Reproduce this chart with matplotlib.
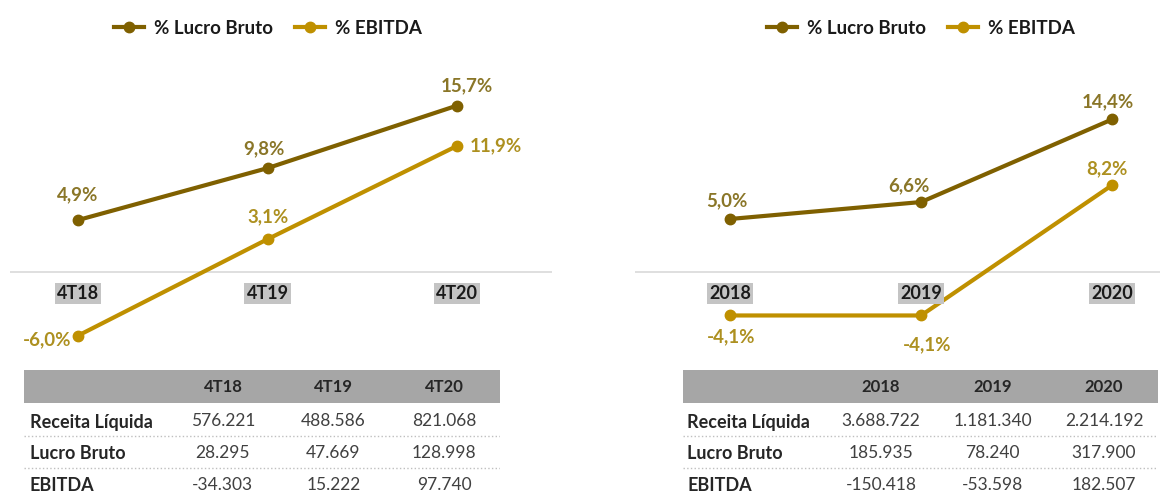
import matplotlib
matplotlib.use("Agg")
import matplotlib.pyplot as plt

plt.rcParams['font.family'] = ['Lato', 'DejaVu Sans']

# dados trimestrais / anuais
cat_tri = ["4T18", "4T19", "4T20"]
lucro_tri = [4.9, 9.8, 15.7]
ebitda_tri = [-6.0, 3.1, 11.9]

cat_ano = ["2018", "2019", "2020"]
lucro_ano = [5.0, 6.6, 14.4]
ebitda_ano = [-4.1, -4.1, 8.2]

linhas_tab = ["Receita Líquida", "Lucro Bruto", "EBITDA"]
tab_tri = [["576.221", "488.586", "821.068"],
           ["28.295", "47.669", "128.998"],
           ["-34.303", "15.222", "97.740"]]
tab_ano = [["3.688.722", "1.181.340", "2.214.192"],
           ["185.935", "78.240", "317.900"],
           ["-150.418", "-53.598", "182.507"]]

C_LB = "#7F6000"
C_EB = "#BF9000"
T_LB = "#8A7628"
T_EB = "#AD9020"

W, H = 1166, 495
fig = plt.figure(figsize=(W / 100, H / 100), dpi=100)


def px_axes(x0, x1, y0, y1):
    return fig.add_axes([x0 / W, 1 - y1 / H, (x1 - x0) / W, (y1 - y0) / H])


def fmt(v):
    return ("%.1f%%" % v).replace(".", ",")


def chart(ax, cats, lb, eb, xlim, off_lb, off_eb, ha_eb):
    x = range(len(cats))
    ax.axhline(0, color="#D9D9D9", lw=1.2, zorder=1)
    ax.plot(x, lb, color=C_LB, lw=3, marker="o", ms=7.5, label="% Lucro Bruto", zorder=3)
    ax.plot(x, eb, color=C_EB, lw=3, marker="o", ms=7.5, label="% EBITDA", zorder=3)
    for i, v in enumerate(lb):
        ax.annotate(fmt(v), (i, v), xytext=off_lb[i], textcoords="offset points",
                    ha="center", va="center", color=T_LB, fontsize=13.5, fontweight="bold")
    for i, v in enumerate(eb):
        ax.annotate(fmt(v), (i, v), xytext=off_eb[i], textcoords="offset points",
                    ha=ha_eb[i], va="center", color=T_EB, fontsize=13.5, fontweight="bold")
    for i, c in enumerate(cats):
        ax.text(i, -2.0, c, ha="center", va="center", fontsize=13, fontweight="bold",
                color="#1A1A1A",
                bbox=dict(facecolor="#C4C4C4", edgecolor="none", pad=1.5))
    ax.set_xlim(*xlim)
    ax.set_ylim(-8.3, 20.94)
    ax.axis("off")


def tabela(ax, cats, rows, vals, xlim, xlab):
    ax.axhspan(-0.5, 0.47, color="#A6A6A6", lw=0)
    for i, c in enumerate(cats):
        ax.text(i, 0, c, ha="center", va="center", fontsize=12, fontweight="bold",
                color="#262626")
    for r, nome in enumerate(rows):
        y = 1 + r * 0.94
        ax.text(xlab, y + 0.03, nome, ha="left", va="center", fontsize=13, fontweight="bold",
                color="#262626")
        for i, v in enumerate(vals[r]):
            ax.text(i, y, v, ha="center", va="center", fontsize=12.5, color="#404040")
        if r < len(rows) - 1:
            ax.axhline(y + 0.43, color="#BFBFBF", lw=1, ls=":")
    ax.set_xlim(*xlim)
    ax.set_ylim(3.176, -0.647)
    ax.axis("off")


ax1 = px_axes(10, 552, 50, 360)
chart(ax1, cat_tri, lucro_tri, ebitda_tri, (-0.359, 2.50),
      [(0, 18), (-3, 14), (7, 14)], [(-5, -3), (0, 16), (9, 0)],
      ["right", "center", "left"])

ax2 = px_axes(635, 1160, 50, 360)
chart(ax2, cat_ano, lucro_ano, ebitda_ano, (-0.497, 2.25),
      [(-2, 13), (-9, 12), (-3, 13)], [(1, -15), (4, -21), (-4, 12)],
      ["center", "center", "center"])

for ax, cx in ((ax1, 268), (ax2, 921)):
    h, l = ax.get_legend_handles_labels()
    fig.legend(h, l, loc="center", bbox_to_anchor=(cx / W, 1 - 28 / H), ncol=2,
               frameon=False, prop=dict(weight="bold", size=13.5),
               handlelength=1.6, handletextpad=0.5, columnspacing=1.2,
               labelcolor="#1A1A1A")

t1 = px_axes(24, 500, 365, 495)
tabela(t1, cat_tri, linhas_tab, tab_tri, (-1.80, 2.507), -1.746)

t2 = px_axes(683, 1158, 365, 495)
tabela(t2, cat_ano, linhas_tab, tab_ano, (-1.776, 2.484), -1.74)

fig.savefig("out.png", dpi=100)
